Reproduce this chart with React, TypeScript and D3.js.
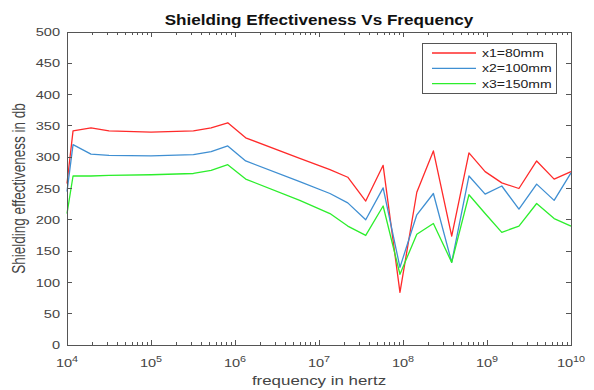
import React from 'react'
import * as d3 from 'd3'

// frequency points (Hz)
const frequencies = [
  1e4, 1.18e4, 1.93e4, 3.16e4, 1e5, 3.2e5, 5.2e5, 8.2e5, 1.34e6, 5.9e6,
  1.35e7, 2.2e7, 3.6e7, 5.8e7, 9.2e7, 1.46e8, 2.3e8, 3.8e8, 6.1e8, 9.5e8,
  1.5e9, 2.4e9, 3.9e9, 6.3e9, 1e10,
]

const x1Values = [
  258, 342, 347, 342, 340, 342, 347, 355, 331, 298,
  280, 268, 230, 287, 84, 244, 310, 174, 307, 277,
  259, 250, 294, 265, 277,
]
const x2Values = [
  245, 320, 305, 303, 302, 304, 309, 318, 294, 261,
  242, 227, 200, 251, 124, 208, 242, 132, 270, 241,
  254, 217, 257, 231, 275,
]
const x3Values = [
  210, 270, 270, 271, 272, 274, 279, 288, 265, 231,
  210, 190, 175, 222, 113, 177, 194, 132, 240, 210,
  180, 190, 226, 202, 190,
]

const seriesNames = ['x1=80mm', 'x2=100mm', 'x3=150mm']
const yTicks = [0, 50, 100, 150, 200, 250, 300, 350, 400, 450, 500]
const xExponents = [4, 5, 6, 7, 8, 9, 10]

const colors = ['#ff2a2a', '#3f8fd2', '#2cee2c']
const axisColor = '#555'
const textColor = '#444'
const font = '"Liberation Sans", Arial, sans-serif'
const SX = 1.27 // the source picture is stretched sideways

const App = () => {
  const width = 594
  const height = 390
  const left = 67, right = 571, top = 32, bottom = 345

  const x = d3.scaleLog().domain([1e4, 1e10]).range([left, right])
  const y = d3.scaleLinear().domain([0, 500]).range([bottom, top])

  const series = [x1Values, x2Values, x3Values]
  const makeLine = d3.line<number>()
    .x((_, i) => x(frequencies[i]))
    .y(v => y(v))

  // minor ticks 2..9 in every decade
  const minor: number[] = []
  xExponents.slice(0, -1).forEach(e => {
    for (let m = 2; m <= 9; m++) minor.push(m * Math.pow(10, e))
  })

  const majorLen = 5, minorLen = 3

  return (
    <svg width={width} height={height}
      style={{ position: 'absolute', left: 0, top: 0, background: '#fff' }}
      fontFamily={font}>
      <rect width={width} height={height} fill="#fff" />

      {/* data lines */}
      {series.map((s, i) => (
        <path key={i} d={makeLine(s) || ''} fill="none"
          stroke={colors[i]} strokeWidth={1.3} strokeLinejoin="round" />
      ))}

      {/* box */}
      <g stroke={axisColor} strokeWidth={1} shapeRendering="crispEdges" fill="none">
        <rect x={left} y={top} width={right - left} height={bottom - top} />
        {xExponents.map(e => (
          <g key={'mx' + e}>
            <line x1={x(Math.pow(10, e))} x2={x(Math.pow(10, e))} y1={bottom} y2={bottom - majorLen} />
            <line x1={x(Math.pow(10, e))} x2={x(Math.pow(10, e))} y1={top} y2={top + majorLen} />
          </g>
        ))}
        {minor.map(v => (
          <g key={'mn' + v}>
            <line x1={x(v)} x2={x(v)} y1={bottom} y2={bottom - minorLen} />
            <line x1={x(v)} x2={x(v)} y1={top} y2={top + minorLen} />
          </g>
        ))}
        {yTicks.map(t => (
          <g key={'y' + t}>
            <line x1={left} x2={left + majorLen} y1={y(t)} y2={y(t)} />
            <line x1={right} x2={right - majorLen} y1={y(t)} y2={y(t)} />
          </g>
        ))}
      </g>

      {/* y tick labels */}
      {yTicks.map(t => (
        <g key={'yl' + t} transform={`translate(${left - 7},${y(t)}) scale(${SX},1)`}>
          <text textAnchor="end" dy="0.36em" fontSize={11.5} fill={textColor}>{t}</text>
        </g>
      ))}

      {/* x tick labels */}
      {xExponents.map(e => (
        <g key={'xl' + e} transform={`translate(${x(Math.pow(10, e))},${bottom + 22}) scale(${SX},1)`}>
          <text textAnchor="middle" fontSize={11.5} fill={textColor}>
            10<tspan fontSize={8.5} dy={-5}>{e}</tspan>
          </text>
        </g>
      ))}

      {/* axis titles */}
      <g transform={`translate(${(left + right) / 2},${bottom + 40}) scale(1.3,1)`}>
        <text textAnchor="middle" fontSize={13} fill={textColor}>frequency in hertz</text>
      </g>
      <g transform={`translate(25,${(top + bottom) / 2}) rotate(-90) scale(1,1.3)`}>
        <text textAnchor="middle" fontSize={13.5} fill={textColor}>Shielding effectiveness in db</text>
      </g>
      <g transform={`translate(${(left + right) / 2},25) scale(1.18,1)`}>
        <text textAnchor="middle" fontSize={14.5} fontWeight="bold" fill="#111">
          Shielding Effectiveness Vs Frequency
        </text>
      </g>

      {/* legend */}
      <g>
        <rect x={422} y={43} width={134} height={50} fill="#fff" stroke={axisColor}
          strokeWidth={1} shapeRendering="crispEdges" />
        {seriesNames.map((n, i) => (
          <g key={n} transform={`translate(0,${53 + i * 15.3})`}>
            <line x1={432} x2={476} y1={0} y2={0} stroke={colors[i]} strokeWidth={1.3} />
            <g transform={`translate(482,0) scale(1.22,1)`}>
              <text dy="0.36em" fontSize={11.5} fill="#222">{n}</text>
            </g>
          </g>
        ))}
      </g>
    </svg>
  )
}

export default App
